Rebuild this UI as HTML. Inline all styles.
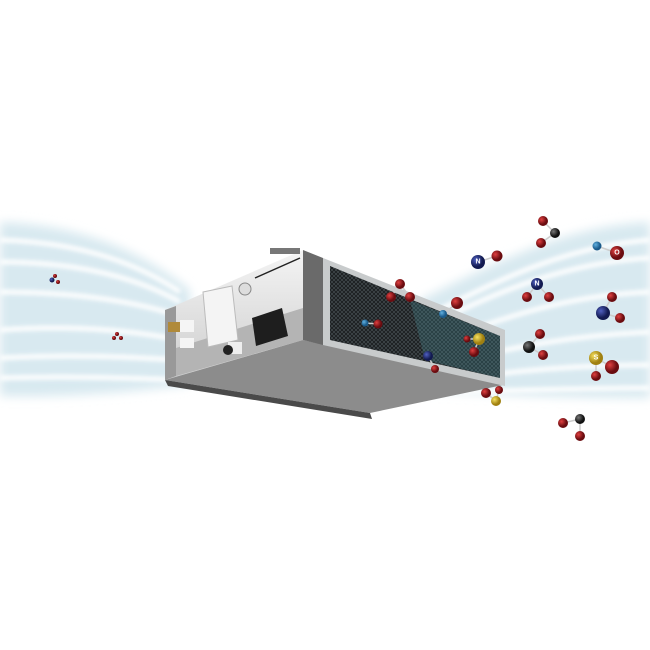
<!DOCTYPE html>
<html><head><meta charset="utf-8"><style>
html,body{margin:0;padding:0;background:#fff;}
svg{display:block;}
text{font-family:"Liberation Sans",sans-serif;font-weight:bold;fill:#fff;text-anchor:middle;dominant-baseline:central;}
</style></head><body>
<svg width="650" height="650" viewBox="0 0 650 650" xmlns="http://www.w3.org/2000/svg">
<defs>
<filter id="bl" x="-10%" y="-50%" width="120%" height="200%"><feGaussianBlur stdDeviation="5"/></filter>
<filter id="bl2" x="-10%" y="-50%" width="120%" height="200%"><feGaussianBlur stdDeviation="2"/></filter>
<pattern id="mesh" width="4" height="4" patternUnits="userSpaceOnUse">
<rect width="4" height="4" fill="#4c5558"/>
<path d="M0 0L4 4M4 0L0 4" stroke="#1e2224" stroke-width="1.3"/>
</pattern>
<radialGradient id="rO" cx="35%" cy="35%"><stop offset="0" stop-color="#e04040"/><stop offset="1" stop-color="#6a0c10"/></radialGradient>
<radialGradient id="rN" cx="35%" cy="35%"><stop offset="0" stop-color="#5060c0"/><stop offset="1" stop-color="#121a50"/></radialGradient>
<radialGradient id="rH" cx="35%" cy="35%"><stop offset="0" stop-color="#60b0e0"/><stop offset="1" stop-color="#1a5a8a"/></radialGradient>
<radialGradient id="rC" cx="35%" cy="35%"><stop offset="0" stop-color="#777"/><stop offset="1" stop-color="#111"/></radialGradient>
<radialGradient id="rS" cx="35%" cy="35%"><stop offset="0" stop-color="#f5e060"/><stop offset="1" stop-color="#a08010"/></radialGradient>
<linearGradient id="side" x1="0" y1="0" x2="0" y2="1"><stop offset="0" stop-color="#f4f4f4"/><stop offset="1" stop-color="#cdcdcd"/></linearGradient>
</defs>
<!-- airflow -->
<g filter="url(#bl)">
<path d="M0 222 C80 225 140 250 190 290 L190 385 C130 392 60 398 0 396 Z" fill="#d8e9f0"/>
<path d="M420 300 C500 260 570 225 650 222 L650 398 C570 398 500 395 420 390 Z" fill="#d8e9f0"/>
</g>
<g filter="url(#bl2)" stroke="#fff" stroke-width="5" fill="none" opacity="0.95">
<path d="M0 240 C70 242 130 258 180 292"/>
<path d="M0 262 C70 262 130 274 180 302"/>
<path d="M0 292 C70 292 130 300 180 316"/>
<path d="M0 330 C70 325 130 330 180 340"/>
<path d="M0 358 C70 354 130 357 180 360"/>
<path d="M0 378 C70 376 130 378 180 380"/>
<path d="M430 315 C500 278 570 246 650 240"/>
<path d="M430 325 C500 290 570 262 650 258"/>
<path d="M430 345 C510 315 570 295 650 292"/>
<path d="M440 365 C520 345 580 335 650 332"/>
<path d="M450 380 C520 370 580 365 650 365"/>
<path d="M460 392 C530 390 590 388 650 388"/>
</g>
<!-- unit -->
<polygon points="165,310 303,250 303,340 165,380" fill="url(#side)"/>
<polygon points="165,310 176,306 176,376 165,380" fill="#999"/>
<polygon points="176,348 303,308 303,340 176,376" fill="#b4b4b4"/>
<polygon points="165,380 303,340 503,385 370,413" fill="#8c8c8c"/>
<polygon points="165,380 370,413 372,419 168,386" fill="#4a4a4a"/>
<polygon points="303,250 323,258 323,345 303,340" fill="#6a6a6a"/>
<polygon points="323,258 505,330 505,386 323,345" fill="#c8cbcc"/>
<polygon points="330,266 500,336 500,378 330,340" fill="url(#mesh)"/>
<polygon points="410,300 500,336 500,378 425,360" fill="#4a8a96" opacity="0.3"/>
<!-- components -->
<polygon points="203,292 232,286 238,340 208,347" fill="#f4f4f4" stroke="#bbb"/>
<circle cx="245" cy="289" r="6" fill="#ddd" stroke="#888"/>
<polygon points="252,318 282,308 288,336 256,346" fill="#1e1e1e"/>
<rect x="228" y="342" width="14" height="12" fill="#eee"/>
<circle cx="228" cy="350" r="5" fill="#222"/>
<rect x="168" y="322" width="14" height="10" fill="#b08a3a"/>
<rect x="180" y="320" width="14" height="12" fill="#f5f5f5"/>
<rect x="180" y="338" width="14" height="10" fill="#f5f5f5"/>
<rect x="270" y="248" width="30" height="6" fill="#777"/>
<line x1="255" y1="278" x2="300" y2="258" stroke="#222" stroke-width="1.5"/>
<!-- molecules -->
<g stroke="#ccc" stroke-width="1.5">
<line x1="543" y1="221" x2="555" y2="233"/><line x1="555" y1="233" x2="541" y2="243"/>
<line x1="478" y1="262" x2="497" y2="256"/><line x1="597" y1="246" x2="617" y2="253"/>
<line x1="537" y1="284" x2="527" y2="297"/><line x1="537" y1="284" x2="549" y2="297"/>
<line x1="612" y1="297" x2="603" y2="313"/><line x1="603" y1="313" x2="620" y2="318"/>
<line x1="540" y1="334" x2="529" y2="347"/><line x1="529" y1="347" x2="543" y2="355"/>
<line x1="596" y1="358" x2="612" y2="367"/><line x1="596" y1="358" x2="596" y2="376"/>
<line x1="563" y1="423" x2="580" y2="419"/><line x1="580" y1="419" x2="580" y2="436"/>
<line x1="400" y1="284" x2="391" y2="297"/><line x1="400" y1="284" x2="410" y2="297"/>
<line x1="365" y1="323" x2="378" y2="324"/><line x1="443" y1="314" x2="457" y2="303"/>
<line x1="467" y1="339" x2="479" y2="339"/><line x1="479" y1="339" x2="474" y2="352"/>
<line x1="428" y1="356" x2="435" y2="369"/>
<line x1="486" y1="393" x2="496" y2="401"/><line x1="499" y1="390" x2="496" y2="401"/>
</g>
<g font-size="7">
<circle cx="543" cy="221" r="5" fill="url(#rO)"/><circle cx="555" cy="233" r="5" fill="url(#rC)"/><circle cx="541" cy="243" r="5" fill="url(#rO)"/>
<circle cx="478" cy="262" r="7" fill="url(#rN)"/><text x="478" y="262">N</text><circle cx="497" cy="256" r="5.5" fill="url(#rO)"/>
<circle cx="597" cy="246" r="4.5" fill="url(#rH)"/><circle cx="617" cy="253" r="7" fill="url(#rO)"/><text x="617" y="253">O</text>
<circle cx="537" cy="284" r="6" fill="url(#rN)"/><text x="537" y="284">N</text><circle cx="527" cy="297" r="5" fill="url(#rO)"/><circle cx="549" cy="297" r="5" fill="url(#rO)"/>
<circle cx="612" cy="297" r="5" fill="url(#rO)"/><circle cx="603" cy="313" r="7" fill="url(#rN)"/><circle cx="620" cy="318" r="5" fill="url(#rO)"/>
<circle cx="540" cy="334" r="5" fill="url(#rO)"/><circle cx="529" cy="347" r="6" fill="url(#rC)"/><circle cx="543" cy="355" r="5" fill="url(#rO)"/>
<circle cx="596" cy="358" r="7" fill="url(#rS)"/><text x="596" y="358">S</text><circle cx="612" cy="367" r="7" fill="url(#rO)"/><circle cx="596" cy="376" r="5" fill="url(#rO)"/>
<circle cx="563" cy="423" r="5" fill="url(#rO)"/><circle cx="580" cy="419" r="5" fill="url(#rC)"/><circle cx="580" cy="436" r="5" fill="url(#rO)"/>
<circle cx="400" cy="284" r="5" fill="url(#rO)"/><circle cx="391" cy="297" r="5" fill="url(#rO)"/><circle cx="410" cy="297" r="5" fill="url(#rO)"/>
<circle cx="365" cy="323" r="3.5" fill="url(#rH)"/><circle cx="378" cy="324" r="4.5" fill="url(#rO)"/>
<circle cx="443" cy="314" r="4" fill="url(#rH)"/><circle cx="457" cy="303" r="6" fill="url(#rO)"/>
<circle cx="467" cy="339" r="3.5" fill="url(#rO)"/><circle cx="479" cy="339" r="6" fill="url(#rS)"/><circle cx="474" cy="352" r="5" fill="url(#rO)"/>
<circle cx="428" cy="356" r="5" fill="url(#rN)"/><circle cx="435" cy="369" r="4" fill="url(#rO)"/>
<circle cx="486" cy="393" r="5" fill="url(#rO)"/><circle cx="499" cy="390" r="4" fill="url(#rO)"/><circle cx="496" cy="401" r="5" fill="url(#rS)"/>
<circle cx="55" cy="276" r="2" fill="url(#rO)"/><circle cx="52" cy="280" r="2.5" fill="url(#rN)"/><circle cx="58" cy="282" r="2" fill="url(#rO)"/>
<circle cx="117" cy="334" r="2" fill="url(#rO)"/><circle cx="114" cy="338" r="2" fill="url(#rO)"/><circle cx="121" cy="338" r="2" fill="url(#rO)"/>
</g>
</svg>
</body></html>
